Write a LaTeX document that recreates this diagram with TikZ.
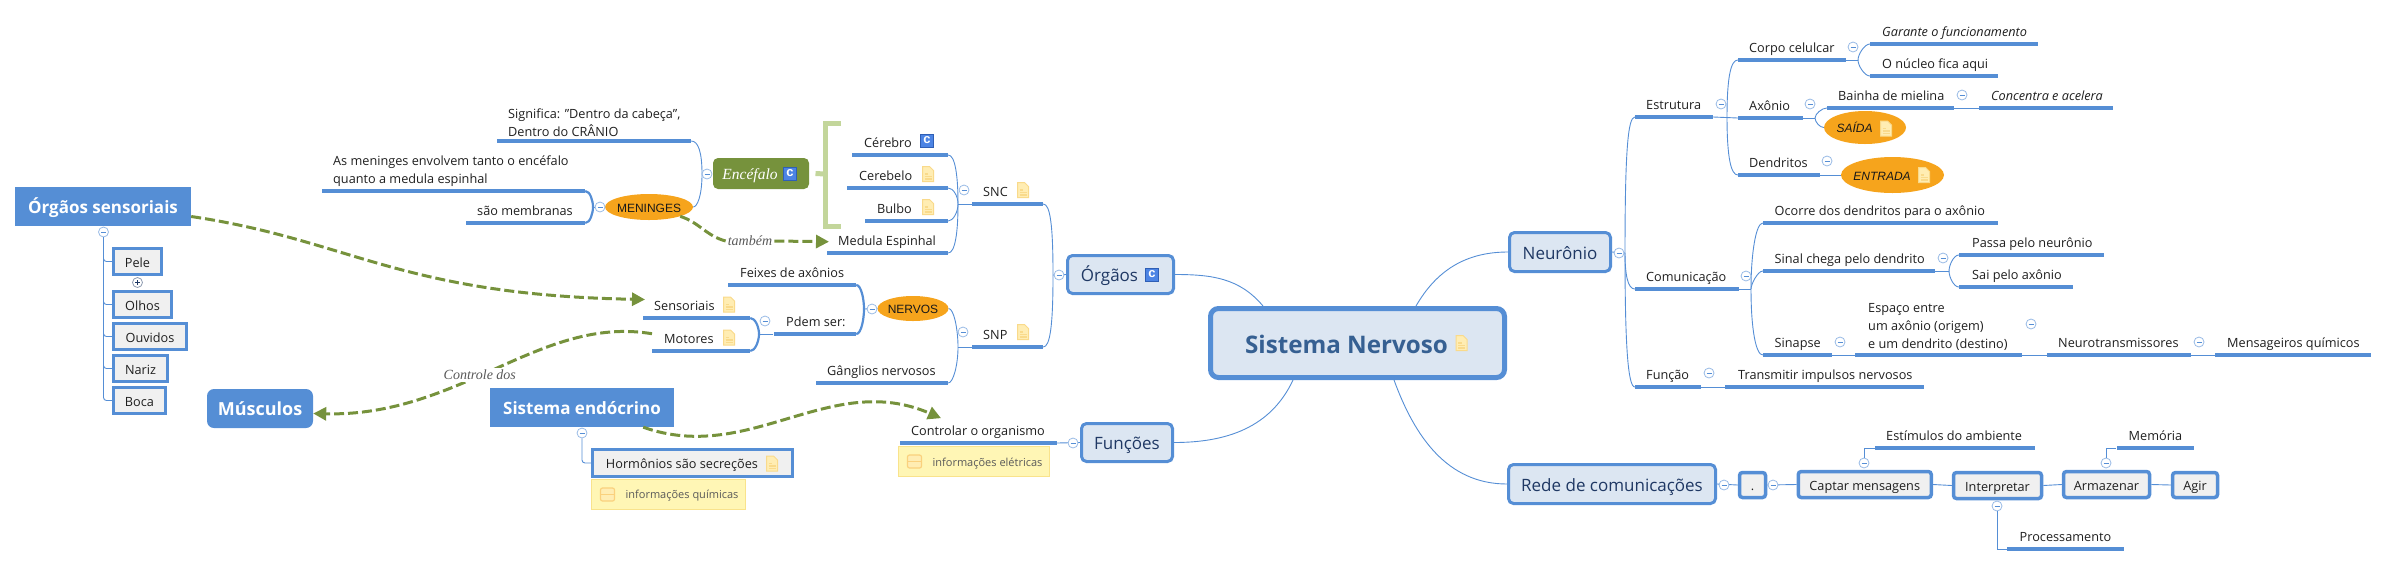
\documentclass[tikz,border=0pt]{standalone}
\usepackage{fontspec}
\setmainfont{Open Sans}
\newfontfamily\rfont{Liberation Serif}
\newfontfamily\ofont{Liberation Sans}
\usetikzlibrary{arrows.meta,shapes.geometric}
\definecolor{mapblue}{HTML}{558ED5}
\definecolor{boxblue}{HTML}{DCE6F2}
\definecolor{leafgrey}{HTML}{F0F0F0}
\definecolor{relgreen}{HTML}{76923C}
\definecolor{brgreen}{HTML}{C3D69B}
\definecolor{ovalorange}{HTML}{F6A41C}
\definecolor{titleblue}{HTML}{366092}
\definecolor{mainink}{HTML}{1F3864}
\definecolor{noteedge}{HTML}{F9DA8B}
\definecolor{notefill}{HTML}{FFEDB3}
\definecolor{infofill}{HTML}{FFF6B5}
\definecolor{infoedge}{HTML}{F9E38C}
\definecolor{badgefill}{HTML}{4C84E4}
\definecolor{badgeedge}{HTML}{2F5FB5}
\tikzset{
	topicbar/.style={fill=mapblue, inner sep=0pt, minimum height=3.5pt},
	topictext/.style={anchor=base west, inner sep=0pt, text=black!88, font=\fontsize{12.7}{18}\selectfont},
	branch/.style={draw=mapblue, line width=0.9pt},
	thickbranch/.style={draw=mapblue, line width=2.2pt},
	goup/.style={out=90, in=#1, in distance=7pt},
	godown/.style={out=-90, in=#1, in distance=7pt},
	foldminus/.style={circle, draw=mapblue!60, fill=white, line width=0.8pt, minimum size=10pt, inner sep=0pt,
		path picture={\draw[mapblue, line width=0.8pt] ([xshift=-2.5pt]path picture bounding box.center) -- ([xshift=2.5pt]path picture bounding box.center);}},
	foldplus/.style={circle, draw=mainink!50, fill=white, line width=0.8pt, minimum size=10pt, inner sep=0pt,
		path picture={\draw[mainink, line width=0.8pt] ([xshift=-2.5pt]path picture bounding box.center) -- ([xshift=2.5pt]path picture bounding box.center) ([yshift=-2.5pt]path picture bounding box.center) -- ([yshift=2.5pt]path picture bounding box.center);}},
	mainbox/.style={rectangle, rounded corners=5pt, draw=mapblue, fill=boxblue, line width=3pt, inner sep=0pt, text=mainink, text height=14pt, text depth=0pt, font=\fontsize{17}{20}\selectfont},
	leafbox/.style={rectangle, draw=mapblue, fill=leafgrey, line width=3.5pt, inner sep=0pt, text=black!88, text height=11pt, text depth=0pt, font=\fontsize{12.7}{18}\selectfont},
	floatbox/.style={rectangle, fill=mapblue, inner sep=0pt, text=white, text height=14pt, text depth=0pt, font=\bfseries\fontsize{17}{20}\selectfont},
	oval/.style={ellipse, fill=ovalorange, inner ysep=0pt, inner xsep=-8pt, text=black!90, text height=10.5pt, text depth=0pt, font=\ofont\fontsize{12}{14}\selectfont},
	infobox/.style={rectangle, fill=infofill, draw=infoedge, line width=1pt, inner sep=0pt, text=black!65, text height=9.5pt, text depth=0pt, font=\fontsize{11}{14}\selectfont},
	reltext/.style={inner sep=2pt, fill=white, text=black!65, font=\rfont\itshape\fontsize{14}{16}\selectfont},
	rel/.style={draw=relgreen, line width=3pt, dash pattern=on 10pt off 4pt},
	relarrow/.style={rel, -{Triangle[length=13pt,width=13pt]}},
	summary/.style={draw=brgreen, line width=5pt},
	notepage/.pic={
		\draw[draw=noteedge, fill=notefill, line width=1pt] (-5.5,-7.5) -- (1.5,-7.5) -- (5.5,-3.5) -- (5.5,7.5) -- (-5.5,7.5) -- cycle;
		\draw[draw=noteedge, line width=1.3pt] (-3.5,0) -- (0,0) (-3.5,2.5) -- (3.5,2.5) (-3.5,5) -- (3.5,5);
	},
	cbadge/.pic={
		\draw[draw=badgeedge, fill=badgefill, line width=1pt] (-6.5,-6.5) rectangle (6.5,6.5);
		\node[inner sep=0pt, text=white, font=\ofont\bfseries\fontsize{13}{13}\selectfont] (-c) at (0,-0.5) {c};
	},
	rowbadge/.pic={
		\draw[draw=noteedge!90!orange, fill=notefill, line width=1.2pt, rounded corners=2pt] (-7,-6.5) rectangle (7,6.5);
		\draw[draw=noteedge!90!orange, line width=1.5pt] (-7,0) -- (7,0);
	}
}
\def\topic[#1](#2)(#3:#4:#5)(#6)#7{
	\node[topicbar, minimum width={(#4-#3)*1pt}] (#2) at ({(#3+#4)/2}, #5) {};
	\node[topictext, #1] (#2txt) at (#6, #5-8) {#7};
}
\begin{document}
\begin{tikzpicture}[x=1pt, y=-1pt]
	\useasboundingbox (0,0) rectangle (2389,566);
	
	%%%%% central %%%%%
	\node[mainbox, draw=mapblue, line width=5pt, rounded corners=8pt, minimum width=294pt, minimum height=69pt, text=titleblue, text height=20pt, font=\bfseries\fontsize{24.2}{26}\selectfont] (sistema) at (1357.5, 343) {Sistema Nervoso\hspace*{22pt}};
	\pic at (1461.5, 343) {notepage};
	
	\node[mainbox, minimum width=106pt, minimum height=38pt] (orgaos) at (1120.5, 274.5) {Órgãos\hspace*{22pt}};
	\pic at (1152, 275) {cbadge};
	\node[mainbox, minimum width=91pt, minimum height=38pt] (funcoes) at (1127, 442.5) {Funções};
	\node[mainbox, minimum width=101pt, minimum height=39pt] (neuronio) at (1560, 252) {Neurônio};
	\node[mainbox, minimum width=207pt, minimum height=39pt] (rede) at (1612, 484) {Rede de comunicações};
	
	\draw[branch] (orgaos.east) to[out=0, in=130] ([xshift=-94.5pt]sistema.north);
	\draw[branch] (funcoes.east) to[out=0, in=-115] ([xshift=-64.5pt]sistema.south);
	\draw[branch] (neuronio.west) to[out=180, in=60] ([xshift=58.5pt]sistema.north);
	\draw[branch] (rede.west) to[out=180, in=-70] ([xshift=36.5pt]sistema.south);
	
	%%%%% orgaos %%%%%
	\topic[](snc)(972:1043:204)(983){SNC}
	\pic at (1023, 190) {notepage};
	\topic[](snp)(972:1043:347)(983){SNP}
	\pic at (1023, 332) {notepage};
	\coordinate (fkorgaos) at (1053, 275);
	\draw[branch] (orgaos.west) -- (fkorgaos);
	\draw[branch] (fkorgaos) to[goup=0, out distance=50pt] (snc.east);
	\draw[branch] (fkorgaos) to[godown=0, out distance=50pt] (snp.east);
	\node[foldminus] (morgaos) at (1059, 275) {};
	
	\topic[](cerebro)(852:948:155)(864){Cérebro}
	\pic at (927, 141) {cbadge};
	\topic[](cerebelo)(847:948:188)(859){Cerebelo}
	\pic at (928, 174) {notepage};
	\topic[](bulbo)(865:948:221)(877){Bulbo}
	\pic at (928, 207) {notepage};
	\topic[](medula)(827:948:253)(838){Medula Espinhal}
	\coordinate (fksnc) at (958, 204);
	\draw[branch] (snc.west) -- (fksnc);
	\draw[branch] (fksnc) to[goup=0, out distance=28pt] (cerebro.east);
	\draw[branch] (fksnc) to[goup=0, out distance=8pt, in distance=5pt] (cerebelo.east);
	\draw[branch] (fksnc) to[godown=0, out distance=8pt, in distance=5pt] (bulbo.east);
	\draw[branch] (fksnc) to[godown=0, out distance=28pt] (medula.east);
	\node[foldminus] (msnc) at (964, 190) {};
	
	\node[mainbox, draw=none, fill=relgreen, minimum width=96pt, minimum height=31pt, text=white, text height=11pt, font=\rfont\itshape\fontsize{15.5}{18}\selectfont] (encefalo) at (761, 173.5) {Encéfalo\hspace*{22pt}};
	\pic at (790, 174) {cbadge};
	\coordinate (brtop) at (841, 123);
	\coordinate (brbot) at (841, 226);
	\draw[summary] (brtop) -- (825, 123) -- (825, 226) -- (brbot);
	\draw[summary] ([xshift=5pt]encefalo.east) -- (825, 174);
	
	\node[oval, minimum width=88pt, minimum height=26pt] (meninges) at (649, 207) {MENINGES};
	\node[oval, minimum width=71pt, minimum height=25pt] (nervos) at (913, 308.5) {NERVOS};
	
	\topic[align=left, anchor=south west, yshift=-4pt](significa)(497:691:141)(508){Significa: "Dentro da cabeça",\\Dentro do CRÂNIO}
	\coordinate (fkencefalo) at (702, 174);
	\draw[branch] (encefalo.west) -- (fkencefalo);
	\draw[branch] (fkencefalo) to[goup=0, out distance=22pt] (significa.east);
	\draw[branch] (fkencefalo) to[godown=0, out distance=22pt, in distance=4pt] (meninges.east);
	\node[foldminus] (mencefalo) at (707, 174) {};
	
	\topic[align=left, anchor=south west, yshift=-4pt](envolvem)(322:585:191)(333){As meninges envolvem tanto o encéfalo\\quanto a medula espinhal}
	\topic[](membranas)(466:585:223)(477){são membranas}
	\coordinate (fkmeninges) at (593, 207);
	\draw[branch] (meninges.west) -- (fkmeninges);
	\draw[thickbranch] (fkmeninges) to[goup=0, out distance=6pt, in distance=5pt] (envolvem.east);
	\draw[thickbranch] (fkmeninges) to[godown=0, out distance=6pt, in distance=5pt] (membranas.east);
	\node[foldminus] (mmeninges) at (600, 207) {};
	
	\coordinate (fksnp) at (958, 347);
	\draw[branch] (snp.west) -- (fksnp);
	\draw[branch] (fksnp) to[goup=0, out distance=18pt, in distance=5pt] (nervos.east);
	\topic[](ganglios)(816:948:383)(827){Gânglios nervosos}
	\draw[branch] (fksnp) to[godown=0, out distance=18pt, in distance=5pt] (ganglios.east);
	\node[foldminus] (msnp) at (963, 332) {};
	
	\topic[](feixes)(728:856:285)(740){Feixes de axônios}
	\topic[](pdem)(773.5:856:334)(786){Pdem ser:}
	\coordinate (fknervos) at (864, 309);
	\draw[branch] (nervos.west) -- (fknervos);
	\draw[thickbranch] (fknervos) to[goup=0, out distance=10pt, in distance=5pt] (feixes.east);
	\draw[thickbranch] (fknervos) to[godown=0, out distance=10pt, in distance=5pt] (pdem.east);
	\node[foldminus] (mnervos) at (872, 309) {};
	
	\topic[](sensoriais)(643:750:318)(654){Sensoriais}
	\pic at (729, 304.5) {notepage};
	\topic[](motores)(652:750:351)(664){Motores}
	\pic at (729, 337.5) {notepage};
	\coordinate (fkpdem) at (759, 334);
	\draw[branch] (pdem.west) -- (fkpdem);
	\draw[thickbranch] (fkpdem) to[goup=0, out distance=7pt, in distance=5pt] (sensoriais.east);
	\draw[thickbranch] (fkpdem) to[godown=0, out distance=7pt, in distance=5pt] (motores.east);
	\node[foldminus] (mpdem) at (765, 321) {};
	
	%%%%% funcoes %%%%%
	\topic[](controlar)(900:1057:443)(911){Controlar o organismo}
	\draw[branch] (funcoes.west) -- (controlar.east);
	\node[foldminus] (mfuncoes) at (1073, 443) {};
	\node[infobox, minimum width=151pt, minimum height=30pt] (eletricas) at (974, 461.5) {\hspace*{27pt}informações elétricas};
	\pic at (914.5, 461.5) {rowbadge};
	
	%%%%% soltos %%%%%
	\node[floatbox, minimum width=176pt, minimum height=39pt] (sensitivos) at (103, 206.5) {Órgãos sensoriais};
	\node[floatbox, rounded corners=7pt, minimum width=106pt, minimum height=39pt, font=\bfseries\fontsize{18}{20}\selectfont] (musculos) at (260, 408.5) {Músculos};
	\node[floatbox, minimum width=184pt, minimum height=39pt] (endocrino) at (582, 407.5) {Sistema endócrino};
	
	\node[foldminus] (msensitivos) at (103.5, 232) {};
	\node[leafbox, minimum width=48pt, minimum height=26pt] (pele) at (137.5, 261.5) {Pele};
	\node[foldplus] (ppele) at (137.5, 282.5) {};
	\node[leafbox, minimum width=58pt, minimum height=26pt] (olhos) at (142.5, 304.5) {Olhos};
	\node[leafbox, minimum width=73pt, minimum height=26pt] (ouvidos) at (150, 336.5) {Ouvidos};
	\node[leafbox, minimum width=54pt, minimum height=26pt] (nariz) at (140.5, 368.5) {Nariz};
	\node[leafbox, minimum width=52pt, minimum height=26pt] (boca) at (139.5, 400.5) {Boca};
	\draw[branch, rounded corners=3pt] (msensitivos.south) |- (pele.west);
	\draw[branch, rounded corners=3pt] (msensitivos.south) |- (olhos.west);
	\draw[branch, rounded corners=3pt] (msensitivos.south) |- (ouvidos.west);
	\draw[branch, rounded corners=3pt] (msensitivos.south) |- (nariz.west);
	\draw[branch, rounded corners=3pt] (msensitivos.south) |- (boca.west);
	
	\node[foldminus] (mendocrino) at (582, 433) {};
	\node[leafbox, minimum width=200pt, minimum height=27pt] (hormonios) at (692.5, 463) {Hormônios são secreções\hspace*{21pt}};
	\pic at (772, 463.5) {notepage};
	\draw[branch, rounded corners=3pt] (mendocrino.south) |- (hormonios.west);
	\node[infobox, minimum width=154pt, minimum height=30pt] (quimicas) at (668.5, 494) {\hspace*{27pt}informações químicas};
	\pic at (607.5, 494.5) {rowbadge};
	
	%%%%% relacoes %%%%%
	\draw[relarrow] ([yshift=-10pt]sensitivos.east) .. controls (350,240) and (400,295) .. ([shift={(-9pt,1pt)}]sensoriaistxt.north west);
	\draw[relarrow] ([xshift=-12pt]motorestxt.north west) .. controls (540,315) and (460,417) .. node[pos=0.55, reltext] (controle) {Controle dos} ([yshift=-5pt]musculos.east);
	\draw[relarrow] ([xshift=-31pt]endocrino.south east) .. controls (750,465) and (830,370) .. ([shift={(30pt,7pt)}]controlartxt.north west);
	\node[reltext] (tambem) at (750, 241) {também};
	\draw[rel] (meninges.south east) to[out=-18, in=165] (tambem.west);
	\draw[relarrow] (tambem.east) -- ([xshift=-9pt]medulatxt.west);
	
	%%%%% neuronio %%%%%
	\topic[](estrutura)(1635:1713:117)(1646){Estrutura}
	\topic[](comunicacao)(1635:1739:289)(1646){Comunicação}
	\topic[](funcao)(1635:1701:387)(1646){Função}
	\coordinate (fkneuronio) at (1625, 253);
	\draw[branch] (neuronio.east) -- (fkneuronio);
	\draw[branch] (fkneuronio) to[goup=180, out distance=100pt] (estrutura.west);
	\draw[branch] (fkneuronio) to[godown=180, out distance=22pt] (comunicacao.west);
	\draw[branch] (fkneuronio) to[godown=180, out distance=90pt] (funcao.west);
	\node[foldminus] (mneuronio) at (1619, 253) {};
	
	\topic[](corpo)(1738:1846:60)(1749){Corpo celulcar}
	\topic[](axonio)(1738:1803:118)(1749){Axônio}
	\topic[](dendritos)(1738:1820:175)(1749){Dendritos}
	\coordinate (fkestrutura) at (1727, 117);
	\draw[branch] (estrutura.east) -- (axonio.west);
	\draw[branch] (fkestrutura) to[goup=180, out distance=40pt] (corpo.west);
	\draw[branch] (fkestrutura) to[godown=180, out distance=40pt] (dendritos.west);
	\node[foldminus] (mestrutura) at (1721, 104) {};
	
	\topic[font=\itshape\fontsize{12.7}{18}\selectfont](garante)(1870:2038:44)(1882){Garante o funcionamento}
	\topic[](nucleo)(1870:1998:76)(1882){O núcleo fica aqui}
	\coordinate (fkcorpo) at (1858, 60);
	\draw[branch] (corpo.east) -- (fkcorpo);
	\draw[branch] (fkcorpo) to[goup=180, out distance=6pt, in distance=5pt] (garante.west);
	\draw[branch] (fkcorpo) to[godown=180, out distance=6pt, in distance=5pt] (nucleo.west);
	\node[foldminus] (mcorpo) at (1853, 47) {};
	
	\topic[](bainha)(1827:1954:108)(1838){Bainha de mielina}
	\topic[font=\itshape\fontsize{12.7}{18}\selectfont](concentra)(1979:2113:108)(1991){Concentra e acelera}
	\draw[branch] (bainha.east) -- (concentra.west);
	\node[foldminus] (mbainha) at (1962, 95) {};
	\node[oval, minimum width=82pt, minimum height=33pt, font=\ofont\itshape\fontsize{12}{14}\selectfont] (saida) at (1865, 127.5) {SAÍDA\hspace*{21pt}};
	\pic at (1886, 128.5) {notepage};
	\coordinate (fkaxonio) at (1815, 118);
	\draw[branch] (axonio.east) -- (fkaxonio);
	\draw[branch] (fkaxonio) to[goup=180, out distance=4pt, in distance=5pt] (bainha.west);
	\draw[branch] (fkaxonio) to[godown=180, out distance=4pt, in distance=4pt] (saida.west);
	\node[foldminus] (maxonio) at (1810, 104) {};
	
	\node[oval, minimum width=103pt, minimum height=36pt, font=\ofont\itshape\fontsize{12}{14}\selectfont] (entrada) at (1892.5, 175) {ENTRADA\hspace*{21pt}};
	\pic at (1924, 175) {notepage};
	\draw[branch] (dendritos.east) -- (entrada.west);
	\node[foldminus] (mdendritos) at (1827, 161) {};
	
	\topic[](ocorre)(1763:1998:223)(1774.5){Ocorre dos dendritos para o axônio}
	\topic[](sinal)(1763:1935:271)(1774.5){Sinal chega pelo dendrito}
	\topic[](sinapse)(1763:1832:355)(1774.5){Sinapse}
	\coordinate (fkcomunicacao) at (1751, 289);
	\draw[branch] (comunicacao.east) -- (fkcomunicacao);
	\draw[branch] (fkcomunicacao) to[goup=180, out distance=35pt] (ocorre.west);
	\draw[branch] (fkcomunicacao) to[goup=180, out distance=5pt, in distance=5pt] (sinal.west);
	\draw[branch] (fkcomunicacao) to[godown=180, out distance=40pt] (sinapse.west);
	\node[foldminus] (mcomunicacao) at (1746, 276) {};
	
	\topic[](passa)(1959:2104:255)(1972){Passa pelo neurônio}
	\topic[](sai)(1959:2073:287)(1972){Sai pelo axônio}
	\coordinate (fksinal) at (1949, 271);
	\draw[branch] (sinal.east) -- (fksinal);
	\draw[branch] (fksinal) to[goup=180, out distance=6pt, in distance=5pt] (passa.west);
	\draw[branch] (fksinal) to[godown=180, out distance=6pt, in distance=5pt] (sai.west);
	\node[foldminus] (msinal) at (1943, 258) {};
	
	\topic[align=left, anchor=south west, yshift=-4pt](espaco)(1855:2022:355)(1868){Espaço entre\\um axônio (origem)\\e um dendrito (destino)}
	\draw[branch] (sinapse.east) -- (espaco.west);
	\node[foldminus] (msinapse) at (1840, 342) {};
	\topic[](neurotrans)(2047:2191:355)(2058){Neurotransmissores}
	\draw[branch] (espaco.east) -- (neurotrans.west);
	\node[foldminus] (mespaco) at (2031, 324) {};
	\topic[](mensageiros)(2215:2371:355)(2227){Mensageiros químicos}
	\draw[branch] (neurotrans.east) -- (mensageiros.west);
	\node[foldminus] (mneurotrans) at (2199, 342) {};
	
	\topic[](transmitir)(1725:1924:387)(1738){Transmitir impulsos nervosos}
	\draw[branch] (funcao.east) -- (transmitir.west);
	\node[foldminus] (mfuncao) at (1709, 373) {};
	
	%%%%% rede %%%%%
	\node[leafbox, rounded corners=3pt, minimum width=26pt, minimum height=25pt] (ponto) at (1752.5, 485) {.};
	\node[leafbox, rounded corners=3pt, minimum width=133pt, minimum height=26pt] (captar) at (1864.75, 484.5) {Captar mensagens};
	\node[leafbox, rounded corners=3pt, minimum width=88pt, minimum height=26pt] (interpretar) at (1997.5, 485.5) {Interpretar};
	\node[leafbox, rounded corners=3pt, minimum width=86pt, minimum height=26pt] (armazenar) at (2106.5, 484.5) {Armazenar};
	\node[leafbox, rounded corners=3pt, minimum width=45pt, minimum height=25pt] (agir) at (2195, 485) {Agir};
	\draw[branch] (rede.east) -- (ponto.west);
	\draw[branch] (ponto.east) -- (captar.west);
	\draw[branch] (captar.east) -- (interpretar.west);
	\draw[branch] (interpretar.east) -- (armazenar.west);
	\draw[branch] (armazenar.east) -- (agir.west);
	\node[foldminus] (mrede) at (1724, 485) {};
	\node[foldminus] (mponto) at (1773, 485) {};
	
	\topic[](estimulos)(1875:2034.5:448)(1886){Estímulos do ambiente}
	\node[foldminus] (mcaptar) at (1864, 463) {};
	\draw[branch] (mcaptar.north) |- (estimulos.west);
	\topic[](memoria)(2116.5:2193.5:448)(2128.5){Memória}
	\node[foldminus] (marmazenar) at (2106, 463) {};
	\draw[branch] (marmazenar.north) |- (memoria.west);
	\topic[](processamento)(2007:2124:549)(2019.5){Processamento}
	\node[foldminus] (minterpretar) at (1997, 506) {};
	\draw[branch] (minterpretar.south) |- (processamento.west);
	
\end{tikzpicture}
\end{document}
